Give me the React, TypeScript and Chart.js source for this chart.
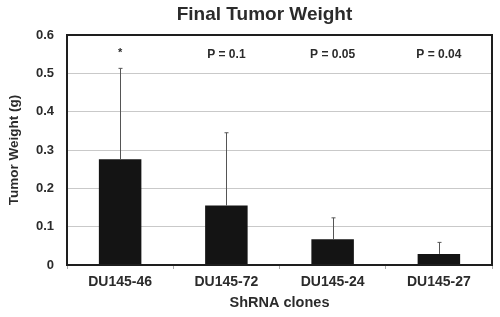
import React, { useEffect, useRef } from "react";
import { Chart, registerables } from "chart.js";

Chart.register(...registerables);

const categories = ["DU145-46", "DU145-72", "DU145-24", "DU145-27"];
const weights = [0.276, 0.155, 0.067, 0.029];
const errorTops = [0.513, 0.345, 0.123, 0.059];
const annotations = ["*", "P = 0.1", "P = 0.05", "P = 0.04"];
const annotationLevel = 0.548;
const chartTitle = "Final Tumor Weight";
const yTitle = "Tumor Weight (g)";
const xTitle = "ShRNA clones";

const FONT = "'Liberation Sans', Arial, sans-serif";
const TEXT = "#2b2b2b";

export default function App() {
  const ref = useRef<HTMLCanvasElement | null>(null);

  useEffect(() => {
    if (!ref.current) return;
    const overlay = {
      id: "overlay",
      afterDatasetsDraw(chart: any) {
        const { ctx, chartArea, scales } = chart;
        const meta = chart.getDatasetMeta(0);
        ctx.save();
        // error bars
        ctx.strokeStyle = "#555";
        ctx.lineWidth = 1;
        meta.data.forEach((bar: any, i: number) => {
          const x = Math.round(bar.x) + 0.5;
          const yTop = scales.y.getPixelForValue(errorTops[i]);
          ctx.beginPath();
          ctx.moveTo(x, bar.y);
          ctx.lineTo(x, yTop);
          ctx.moveTo(x - 2, yTop);
          ctx.lineTo(x + 2, yTop);
          ctx.stroke();
        });
        // annotations
        ctx.fillStyle = TEXT;
        ctx.textAlign = "center";
        ctx.textBaseline = "middle";
        const ya = scales.y.getPixelForValue(annotationLevel);
        meta.data.forEach((bar: any, i: number) => {
          ctx.font = `bold ${i === 0 ? 11 : 12}px ${FONT}`;
          ctx.fillText(annotations[i], bar.x, i === 0 ? ya - 2 : ya);
        });
        // frame
        ctx.strokeStyle = "#1e1e1e";
        ctx.lineWidth = 2;
        ctx.strokeRect(
          chartArea.left,
          chartArea.top,
          chartArea.right - chartArea.left,
          chartArea.bottom - chartArea.top
        );
        // title
        ctx.font = `bold 19px ${FONT}`;
        ctx.fillStyle = TEXT;
        ctx.fillText(chartTitle, (chartArea.left + chartArea.right) / 2 - 15, 15);
        ctx.restore();
      },
    };

    const chart = new Chart(ref.current, {
      type: "bar",
      data: {
        labels: categories,
        datasets: [
          {
            data: weights,
            backgroundColor: "#141414",
            borderWidth: 0,
            categoryPercentage: 1,
            barPercentage: 0.4,
          },
        ],
      },
      options: {
        animation: false,
        responsive: false,
        maintainAspectRatio: false,
        layout: { padding: { top: 35, right: 8, bottom: 5, left: 0 } },
        plugins: {
          legend: { display: false },
          tooltip: { enabled: false },
          title: { display: false },
        },
        scales: {
          x: {
            grid: {
              drawOnChartArea: false,
              drawTicks: true,
              tickLength: 4,
              color: "#aaa",
            },
            border: { display: false },
            ticks: {
              color: TEXT,
              font: { family: FONT, size: 14, weight: "bold" },
              padding: 5,
              maxRotation: 0,
            },
            title: {
              display: true,
              text: xTitle,
              color: TEXT,
              font: { family: FONT, size: 14.5, weight: "bold" },
              padding: { top: 4, bottom: 0 },
            },
            afterFit(scale: any) {
              scale.height = 47;
            },
          },
          y: {
            min: 0,
            max: 0.6,
            grid: {
              color: "#c9c9c9",
              lineWidth: 1,
              drawTicks: false,
            },
            border: { display: false },
            ticks: {
              stepSize: 0.1,
              color: TEXT,
              font: { family: FONT, size: 13, weight: "bold" },
              padding: 13,
              callback: (v: any) => (Number(v) === 0 ? "0" : Number(v).toFixed(1)),
            },
            title: {
              display: true,
              text: yTitle,
              color: TEXT,
              font: { family: FONT, size: 13.5, weight: "bold" },
              padding: { top: 6, bottom: 0 },
            },
            afterFit(scale: any) {
              scale.width = 67;
            },
          },
        },
      },
      plugins: [overlay],
    });
    return () => chart.destroy();
  }, []);

  return (
    <div style={{ position: "fixed", left: 0, top: 0, width: 500, height: 317, background: "#fff" }}>
      <canvas ref={ref} width={500} height={317} style={{ width: 500, height: 317 }} />
    </div>
  );
}
